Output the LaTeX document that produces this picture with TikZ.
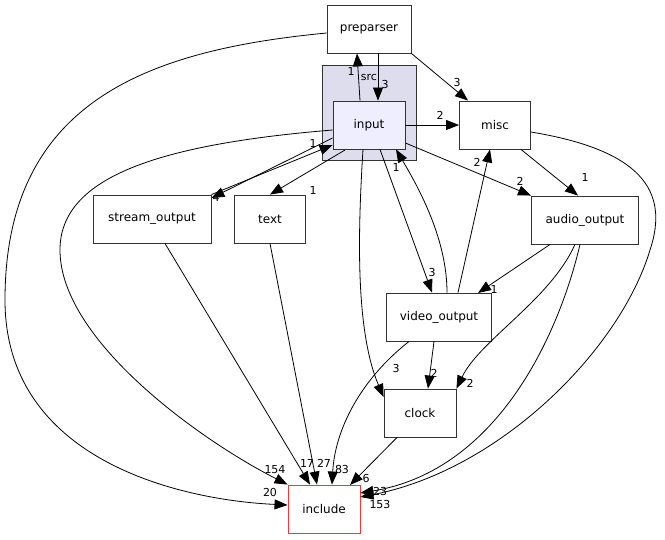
\documentclass[tikz,border=0pt]{standalone}
\usepackage{fontspec}
\setmainfont{DejaVu Sans}
\usetikzlibrary{arrows.meta}
\begin{document}
\begin{tikzpicture}[x=1pt,y=-1pt,
  box/.style={draw=black!80,line width=0.9pt,fill=white,minimum height=48pt,inner sep=0pt,font=\fontsize{12}{14}\selectfont},
  e/.style={draw=black,line width=0.8pt,-{Triangle[length=13pt,width=10pt]}},
  lb/.style={font=\fontsize{11}{12}\selectfont,inner sep=0pt}]
\useasboundingbox (0,0) rectangle (665,539);
\fill[fill={rgb,255:red,221;green,221;blue,238},draw=black!80,line width=0.9pt] (322,65) rectangle (416,160);
\node[lb] (srcl) at (369,77) {src};
\node[box,minimum width=84pt] (pre) at (369,29) {preparser};
\node[box,minimum width=72pt,fill={rgb,255:red,238;green,238;blue,255}] (in) at (369,125) {input};
\node[box,minimum width=71pt] (misc) at (495,125) {misc};
\node[box,minimum width=118pt] (so) at (152,219) {stream\_output};
\node[box,minimum width=71pt] (txt) at (270,219) {text};
\node[box,minimum width=107pt] (ao) at (585,220) {audio\_output};
\node[box,minimum width=105pt] (vo) at (439,317) {video\_output};
\node[box,minimum width=72pt] (clk) at (420,413) {clock};
\node[box,minimum width=72pt,draw=red!80] (inc) at (324,509) {include};
\coordinate (intx) at (345,150);
\coordinate (vone) at (478,293);
\coordinate (incne) at (350,485);

\draw[e] (pre.south -| 378,0) -- (in.north -| 378,0);
\node[lb] at (385,84) {3};
\draw[e] (in.north -| 360,0) -- (pre.south -| 357,0);
\node[lb] at (351,71) {1};
\draw[e] (pre.south east) -- (misc.north -| 468,0);
\node[lb] at (457,82) {3};
\draw[e] (pre.west |- 0,33) .. controls (150,50) and (5,100) .. (5,300) .. controls (5,460) and (180,500) .. (inc.west |- 0,505);
\node[lb] at (270,492) {20};
\draw[e] (in.west |- 0,130) .. controls (150,145) and (60,180) .. (60,250) .. controls (60,340) and (200,440) .. (inc.north west);
\node[lb] at (275,470) {154};
\draw[e] (in.east) -- (misc.west);
\node[lb] at (440,115) {2};
\draw[e] (in.west |- 0,138) -- (so.north east |- 0,198);
\node[lb] at (216,197) {4};
\draw[e] (so.north east) -- (in.west |- 0,145);
\node[lb] at (313,143) {1};
\draw[e] (intx) -- (txt.north);
\node[lb] at (313,190) {1};
\draw[e] (in.east |- 0,143) -- (ao.north west);
\node[lb] at (520,181) {2};
\draw[e] (in.south -| 380,0) -- (vo.north -| 432,0);
\node[lb] at (432,272) {3};
\draw[e] (vo.north -| 447,0) .. controls (447,240) and (420,190) .. (in.south -| 396,0);
\node[lb] at (396,167) {1};
\draw[e] (in.south -| 363,0) .. controls (358,230) and (355,330) .. (clk.west |- 0,397);
\node[lb] at (396,368) {3};
\draw[e] (misc.south -| 521,0) -- (ao.north -| 578,0);
\node[lb] at (585,177) {1};
\draw[e] (misc.east |- 0,132) .. controls (640,150) and (670,190) .. (650,250) .. controls (620,350) and (500,470) .. (inc.east |- 0,497);
\node[lb] at (380,504) {153};
\draw[e] (vo.north -| 458,0) -- (misc.south -| 490,0);
\node[lb] at (477,162) {2};
\draw[e] (ao.south -| 550,0) -- (vone);
\node[lb] at (494,289) {1};
\draw[e] (ao.south -| 575,0) .. controls (550,300) and (480,340) .. (clk.north east);
\node[lb] at (470,383) {2};
\draw[e] (ao.south -| 580,0) .. controls (560,330) and (500,470) .. (inc.east |- 0,493);
\node[lb] at (380,491) {23};
\draw[e] (vo.south -| 434,0) -- (clk.north -| 428,0);
\node[lb] at (434,373) {2};
\draw[e] (vo.south -| 409,0) .. controls (360,380) and (335,430) .. (inc.north -| 332,0);
\node[lb] at (342,469) {83};
\draw[e] (so.south -| 165,0) -- (inc.north -| 310,0);
\node[lb] at (307,463) {17};
\draw[e] (txt.south) -- (inc.north -| 317,0);
\node[lb] at (324,463) {27};
\draw[e] (clk.south -| 397,0) -- (incne);
\node[lb] at (366,478) {6};
\end{tikzpicture}
\end{document}
